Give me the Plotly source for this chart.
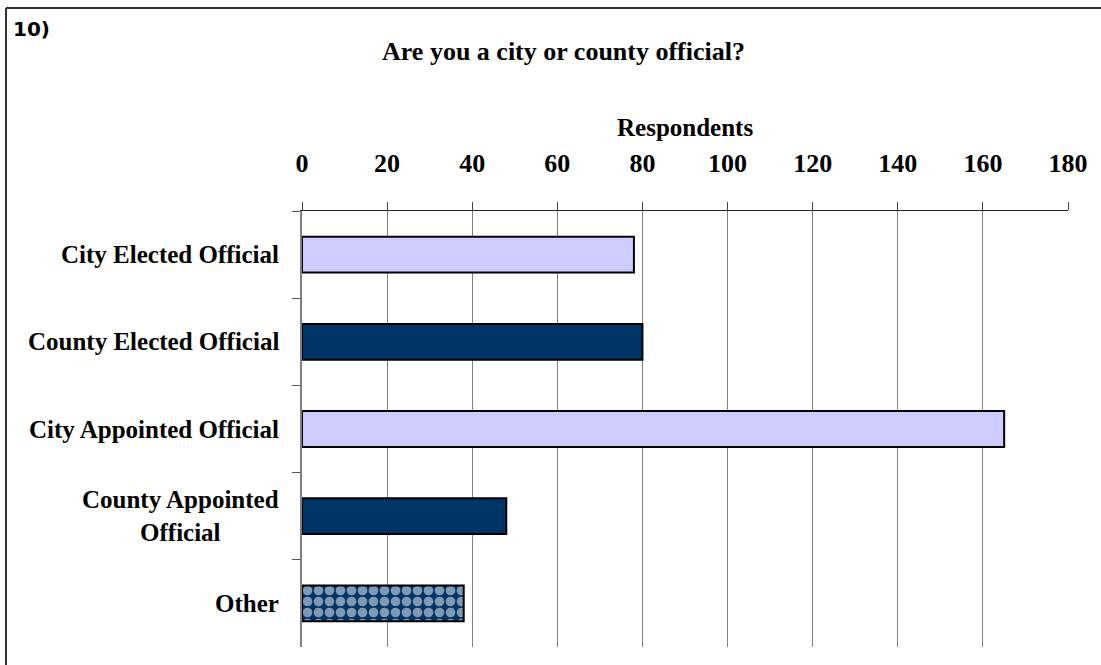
import plotly.graph_objects as go

categories = ["City Elected Official", "County Elected Official", "City Appointed Official",
              "County Appointed<br>Official", "Other"]
values = [78, 80, 165, 48, 38]
bar_colors = ["#CCCCFF", "#003366", "#CCCCFF", "#003366", "#003366"]
patterns = ["", "", "", "", "."]
x_ticks = [0, 20, 40, 60, 80, 100, 120, 140, 160, 180]

W, H = 1101, 665
L, R, T, B = 302, 1068, 211, 647
pw, ph = R - L, B - T

def px(x):
    return (x - L) / pw

def py(y):
    return (B - y) / ph

serif = "Liberation Serif, Times New Roman, serif"

fig = go.Figure()
fig.add_trace(go.Bar(
    x=values, y=categories, orientation="h",
    marker=dict(color=bar_colors, line=dict(color="black", width=2),
                pattern=dict(shape=patterns, fgcolor="#CCCCFF",
                             fillmode="overlay", size=11, solidity=0.6)),
    showlegend=False, hoverinfo="x+y",
))

fig.update_layout(
    width=W, height=H,
    margin=dict(l=L, r=W - R, t=T, b=H - B, pad=0),
    paper_bgcolor="white", plot_bgcolor="white",
    bargap=0.59,
    xaxis=dict(side="top", range=[0, 180], tickvals=x_ticks, ticktext=[str(v) for v in x_ticks],
               showgrid=True, gridcolor="#808080", gridwidth=1,
               showline=True, linecolor="#222222", linewidth=1,
               ticks="outside", ticklen=8, tickcolor="#444444",
               ticklabelstandoff=20,
               tickfont=dict(family=serif, size=26, color="black", weight="bold"),
               zeroline=False, fixedrange=True),
    yaxis=dict(autorange="reversed", type="category", showgrid=False,
               showline=True, linecolor="#808080", linewidth=2,
               ticks="outside", ticklen=8, tickcolor="#555555", tickson="boundaries",
               showticklabels=False, zeroline=False, fixedrange=True),
    shapes=[
        dict(type="line", xref="paper", yref="paper", x0=px(6), x1=px(6), y0=py(W), y1=py(8),
             line=dict(color="#333333", width=2)),
        dict(type="line", xref="paper", yref="paper", x0=px(6), x1=px(1200), y0=py(8), y1=py(8),
             line=dict(color="#333333", width=2)),
    ],
)

annotations = [
    dict(text="<b>10)</b>", xref="paper", yref="paper", x=px(11), y=py(29),
         xanchor="left", yanchor="middle", showarrow=False,
         font=dict(family="DejaVu Sans, Verdana, sans-serif", size=20, color="black")),
    dict(text="<b>Are you a city or county official?</b>", xref="paper", yref="paper",
         x=px(563), y=py(52), xanchor="center", yanchor="middle", showarrow=False,
         font=dict(family=serif, size=26, color="black")),
    dict(text="<b>Respondents</b>", xref="paper", yref="paper",
         x=px(685), y=py(128), xanchor="center", yanchor="middle", showarrow=False,
         font=dict(family=serif, size=25, color="black")),
]
for c in categories:
    annotations.append(dict(text="<b>" + c + "</b>", xref="paper", yref="y", x=px(281), y=c,
                            xanchor="right", yanchor="middle", align="center", showarrow=False,
                            font=dict(family=serif, size=25, color="black")))
fig.update_layout(annotations=annotations)

fig.write_html("out.html")
